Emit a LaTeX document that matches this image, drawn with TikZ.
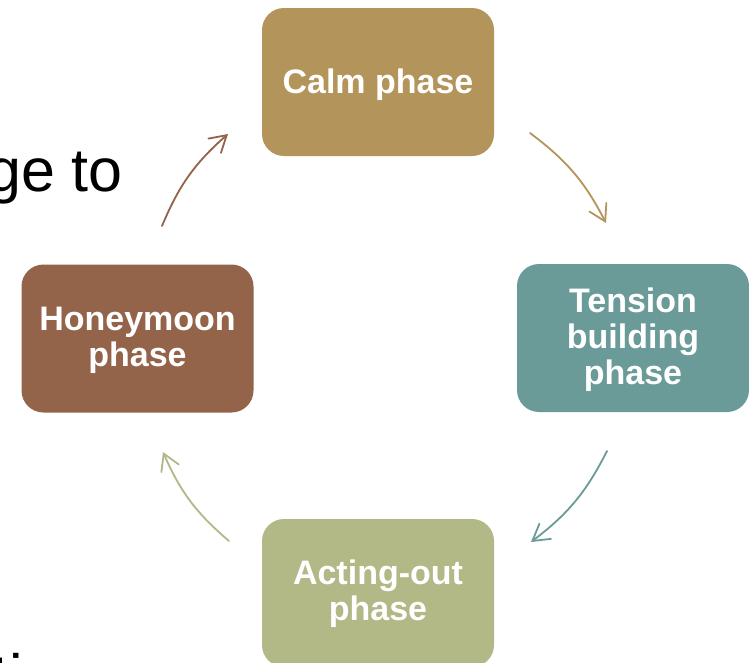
\documentclass[tikz,border=0pt]{standalone}
\usepackage{fontspec}
\setmainfont{Liberation Sans}
\usetikzlibrary{arrows.meta}
\definecolor{calmc}{RGB}{179,148,90}
\definecolor{tensc}{RGB}{106,155,153}
\definecolor{actc}{RGB}{178,184,134}
\definecolor{honc}{RGB}{147,100,74}
\tikzset{
  phasebox/.style={rectangle, rounded corners=22pt, minimum width=232pt, minimum height=148pt,
    inner sep=0pt},
  phasetext/.style={inner sep=0pt, align=center, text=white,
    font=\fontsize{34}{36}\selectfont\bfseries},
  cyclearrow/.style={line width=1.8pt, line cap=round, bend left=13,
    -{Straight Barb[length=16pt,width=19pt,line cap=round]}},
  bgtext/.style={inner sep=0pt, font=\fontsize{61}{70}\selectfont, text=black}
}
\begin{document}
\begin{tikzpicture}[x=1pt,y=-1pt]
\useasboundingbox (0,0) rectangle (749,662);
\clip (0,0) rectangle (749,662);
\fill[white] (0,0) rectangle (749,662);
\node[bgtext, anchor=base east] (bg1) at (123,191) {ge to};
\node[bgtext, anchor=base west] (bg2) at (-8,697) {ti};
\node[phasebox, fill=calmc] (calm) at (378,82) {};
\node[phasebox, fill=tensc] (tens) at (633,338) {};
\node[phasebox, fill=actc] (act) at (378,593) {};
\node[phasebox, fill=honc] (hon) at (137.5,338.5) {};
\node[phasetext] (calmt) at ([yshift=-3pt]calm.center) {Calm phase};
\node[phasetext] (tenst) at ([yshift=-2pt]tens.center) {Tension\\building\\phase};
\node[phasetext] (actt) at ([yshift=-1pt]act.center) {Acting-out\\phase};
\node[phasetext] (hont) at ([yshift=-2pt]hon.center) {Honeymoon\\phase};
\coordinate (a1s) at (530,133); \coordinate (a1e) at (606,223);
\coordinate (a2s) at (607,451); \coordinate (a2e) at (531,542);
\coordinate (a3s) at (229,541); \coordinate (a3e) at (163,452);
\coordinate (a4s) at (162,226); \coordinate (a4e) at (228,134);
\draw[cyclearrow, draw=calmc] (a1s) to (a1e);
\draw[cyclearrow, draw=tensc] (a2s) to (a2e);
\draw[cyclearrow, draw=actc] (a3s) to (a3e);
\draw[cyclearrow, draw=honc] (a4s) to (a4e);
\end{tikzpicture}
\end{document}
